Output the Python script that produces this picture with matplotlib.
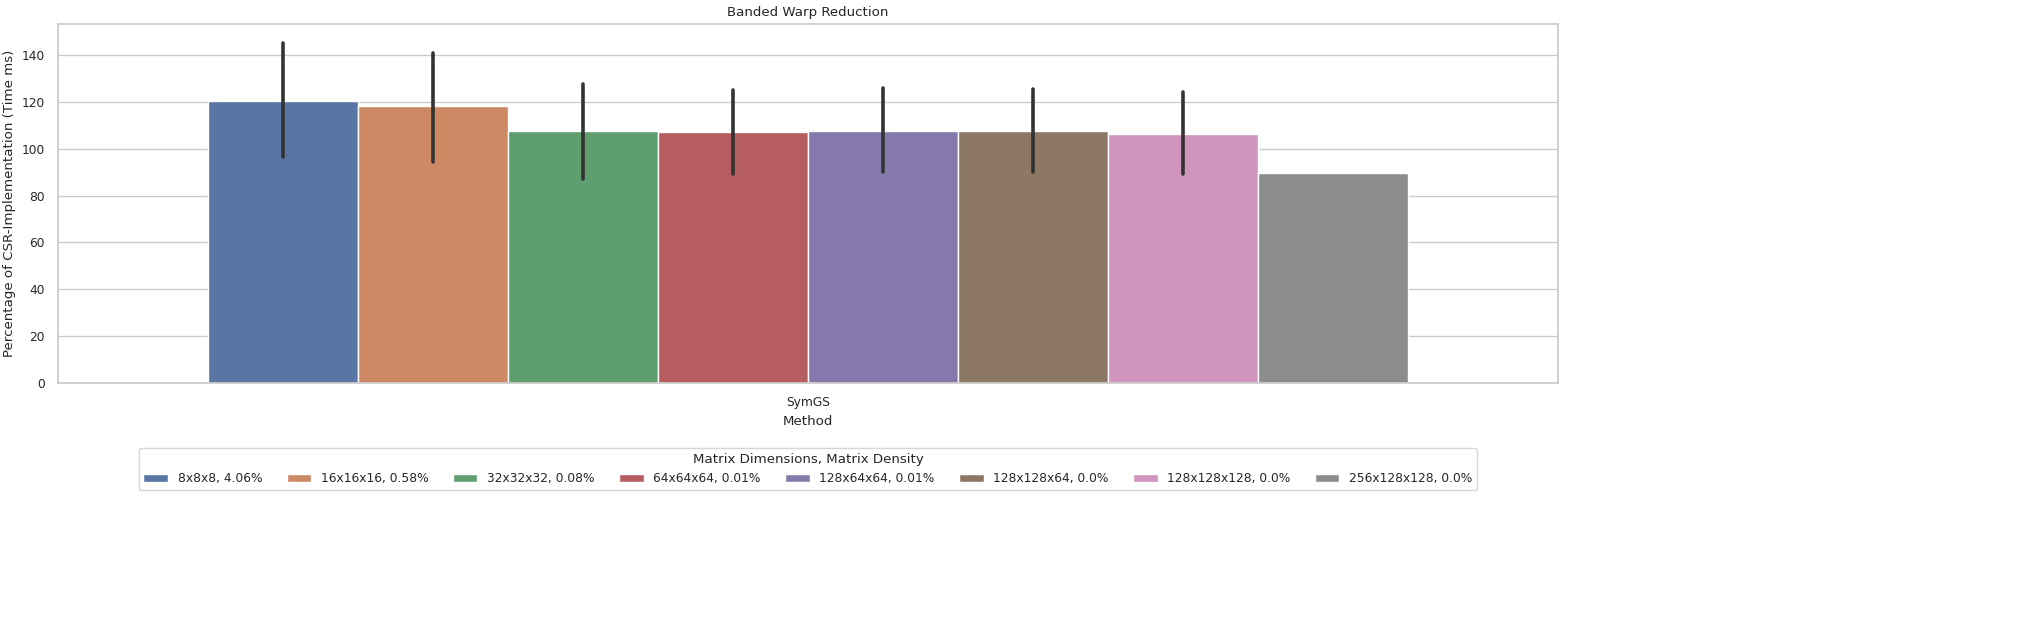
import numpy as np
import matplotlib
matplotlib.use("Agg")
import matplotlib.pyplot as plt
import seaborn as sns

sns.set_theme(style="whitegrid", font_scale=0.8)

labels = ["8x8x8, 4.06%", "16x16x16, 0.58%", "32x32x32, 0.08%", "64x64x64, 0.01%",
          "128x64x64, 0.01%", "128x128x64, 0.0%", "128x128x128, 0.0%", "256x128x128, 0.0%"]
means = [120.5, 118.0, 107.6, 107.3, 107.6, 107.6, 106.3, 89.8]
err_lo = [96.5, 94.5, 87.0, 89.0, 90.0, 90.0, 89.0, None]
err_hi = [145.0, 141.0, 127.5, 125.0, 126.0, 125.5, 124.0, None]

colors = [sns.desaturate(c, 0.75) for c in sns.color_palette("deep", len(labels))]

fig = plt.figure(figsize=(20.23, 6.35), dpi=100)
ax = fig.add_axes([58 / 2023, 1 - 383 / 635, 1500 / 2023, 359 / 635])

n = len(labels)
w = 0.8 / n
for i, (lab, m) in enumerate(zip(labels, means)):
    x = -0.4 + w * (i + 0.5)
    ax.bar(x, m, width=w, color=colors[i], edgecolor="white", linewidth=1, label=lab)
    if err_lo[i] is not None:
        ax.plot([x, x], [err_lo[i], err_hi[i]], color="#333333", lw=2.6, zorder=3)

ax.set_xlim(-0.5, 0.5)
ax.set_ylim(0, 153.2)
ax.set_xticks([0])
ax.set_xticklabels(["SymGS"])
ax.set_xlabel("Method")
ax.set_ylabel("Percentage of CSR-Implementation (Time ms)")
ax.set_title("Banded Warp Reduction")
ax.xaxis.grid(False)

ax.legend(title="Matrix Dimensions, Matrix Density", ncol=n, loc="upper center",
          bbox_to_anchor=(0.5, -0.165), frameon=True)

fig.savefig("out.png")
